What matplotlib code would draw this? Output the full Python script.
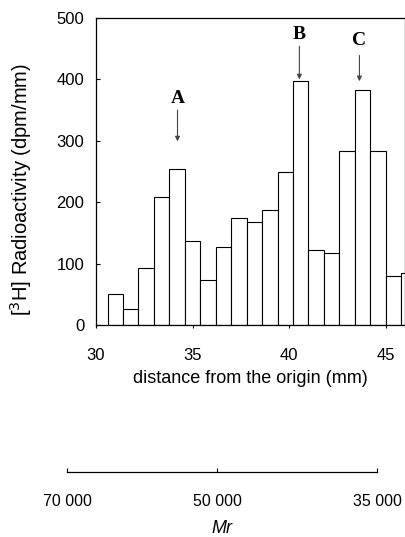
import matplotlib.pyplot as plt

# histogram of [3H] radioactivity along the gel
bin_left = [30.6, 31.4, 32.2, 33.0, 33.8, 34.6, 35.4, 36.2, 37.0, 37.8,
            38.6, 39.4, 40.2, 41.0, 41.8, 42.6, 43.4, 44.2, 45.0, 45.8]
radioactivity = [50, 26, 93, 208, 254, 137, 73, 127, 174, 167,
                 188, 249, 398, 122, 118, 284, 383, 283, 80, 84]
bin_width = 0.8

# peak markers: label, position (mm), arrow start, arrow end, label height
peak_labels = ["A", "B", "C"]
peak_pos = [34.22, 40.53, 43.64]
arrow_top = [350, 454, 439]
arrow_tip = [299, 400, 397]
label_y = [355, 460, 450]

# molecular-mass scale
mr_ticks = [70000, 50000, 35000]
mr_labels = ["70 000", "50 000", "35 000"]

plt.rcParams["font.family"] = ["Liberation Sans", "DejaVu Sans"]

fig = plt.figure(figsize=(4.06, 5.37), dpi=100)
W, H = 406, 537

ax = fig.add_axes([96 / W, 1 - 325 / H, (405 - 96) / W, (325 - 18) / H])
ax.bar(bin_left, radioactivity, width=bin_width, align="edge",
       facecolor="white", edgecolor="black", linewidth=0.8)
ax.set_xlim(30, 46)
ax.set_ylim(0, 500)
ax.set_xticks([30, 35, 40, 45])
ax.set_yticks([0, 100, 200, 300, 400, 500])
ax.tick_params(axis="x", labelsize=12, length=2, width=0.8, pad=14.5)
ax.tick_params(axis="y", labelsize=12, length=3, width=0.8,
               direction="in", pad=8.5)
for s in ax.spines.values():
    s.set_linewidth(0.9)
ax.set_xlabel("distance from the origin (mm)", fontsize=13, labelpad=5)
ax.set_ylabel("[$^3$H] Radioactivity (dpm/mm)", fontsize=14.5)
ax.yaxis.set_label_coords(-0.2, 0.44)

for lab, x, y0, y1, ly in zip(peak_labels, peak_pos, arrow_top, arrow_tip, label_y):
    ax.annotate("", xy=(x, y1), xytext=(x, y0),
                arrowprops=dict(arrowstyle="-|>", color="#444444", lw=0.8,
                                mutation_scale=7, shrinkA=0, shrinkB=0))
    ax.text(x, ly, lab, ha="center", va="bottom", fontsize=14,
            fontweight="bold", family="Liberation Serif")

# Mr scale underneath
ax2 = fig.add_axes([67 / W, 1 - 472 / H, (377 - 67) / W, 0.001])
ax2.set_xscale("log")
ax2.set_xlim(70000, 35000)
ax2.minorticks_off()
ax2.set_xticks(mr_ticks)
ax2.set_xticklabels(mr_labels)
ax2.set_yticks([])
for side in ["top", "left", "right"]:
    ax2.spines[side].set_visible(False)
ax2.spines["bottom"].set_linewidth(0.9)
ax2.tick_params(axis="x", direction="in", length=3, width=0.8,
                labelsize=11.5, pad=16)
ax2.patch.set_visible(False)
ax2.set_xlabel("Mr", fontsize=13, fontstyle="italic", labelpad=8)

fig.savefig("out.png", dpi=100)
